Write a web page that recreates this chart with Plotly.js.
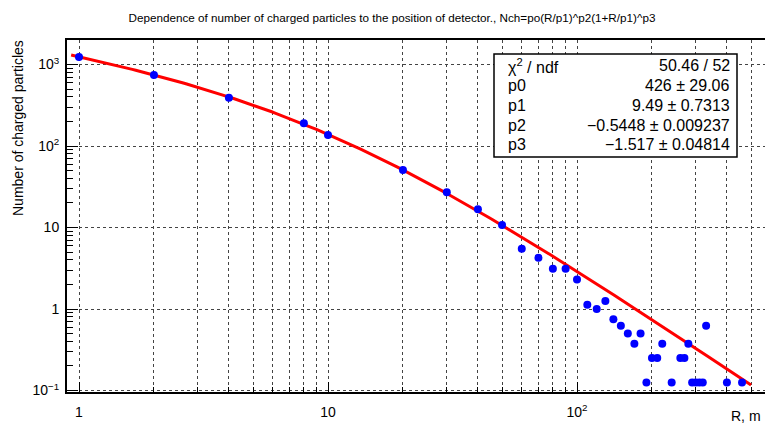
<!DOCTYPE html>
<html>
<head>
<meta charset="utf-8">
<script src="https://cdn.plot.ly/plotly-3.0.1.min.js"></script>
<style>
html, body { margin:0; padding:0; overflow:hidden; background:#fff; }
#chart { width:790px; height:423px; }
</style>
</head>
<body>
<div id="chart"></div>
<script>
// ---- data ----
var radius = [1,2,4,8,10,20,30,40,50,60,70,80,90,100,110,120,130,140,150,160,170,180,190,200,210,220,240,260,270,280,290,300,310,320,330,400,460];
var counts = [1240,744,392,190,136,50.8,27,16.7,10.75,5.5,4.25,3.125,3.125,2.3,1.125,1,1.25,0.75,0.625,0.5,0.375,0.5,0.125,0.25,0.25,0.375,0.125,0.25,0.25,0.375,0.125,0.125,0.125,0.125,0.625,0.125,0.125];

// fit parameters as printed in the stats box
var p0 = 426, p1 = 9.49, p2 = -0.5448, p3 = -1.517;
var fitRange = [0.93, 500];

var statNames  = ['\u03c7<sup>2</sup> / ndf', 'p0', 'p1', 'p2', 'p3'];
var statValues = ['50.46 / 52', '426 \u00b1 29.06', '9.49 \u00b1 0.7313', '\u22120.5448 \u00b1 0.009237', '\u22121.517 \u00b1 0.04814'];

var xTickVals = [1, 10, 100];
var xTickText = ['1', '10', '10<sup>2</sup>'];
var xMinorVals = [2,3,4,5,6,7,8,9,20,30,40,50,60,70,80,90,200,300,400,500,600];
var yTickVals = [0.1, 1, 10, 100, 1000];
var yTickText = ['10<sup>\u22121</sup>', '1', '10', '10<sup>2</sup>', '10<sup>3</sup>'];
var yMinorVals = [0.2,0.3,0.4,0.5,0.6,0.7,0.8,0.9,2,3,4,5,6,7,8,9,20,30,40,50,60,70,80,90,200,300,400,500,600,700,800,900,2000];

// fit curve from the printed fit function Nch = p0 (R/p1)^p2 (1+R/p1)^p3
var fitX = [], fitY = [];
var nFit = 200;
var lo = Math.log10(fitRange[0]), hi = Math.log10(fitRange[1]);
for (var i = 0; i <= nFit; i++) {
  var r = Math.pow(10, lo + (hi - lo) * i / nFit);
  fitX.push(r);
  fitY.push(p0 * Math.pow(r / p1, p2) * Math.pow(1 + r / p1, p3));
}

var FONT = 'Liberation Sans, Arial, Helvetica, sans-serif';

var traces = [
  { x: fitX, y: fitY, type: 'scatter', mode: 'lines',
    line: { color: '#ff0000', width: 3 }, hoverinfo: 'skip', showlegend: false },
  { x: radius, y: counts, type: 'scatter', mode: 'markers',
    marker: { color: '#0000ff', size: 8 }, showlegend: false }
];

// plot frame in pixels: left 67, right 780, top 40, bottom 392
var L = 67, R = 780, T = 40, B = 392;
function px(xp) { return (xp - L) / (R - L); }
function py(yp) { return (B - yp) / (B - T); }

var annotations = [];
var rowY = [65.7, 85.7, 105, 125, 144.3];
for (var k = 0; k < statNames.length; k++) {
  annotations.push({ xref:'paper', yref:'paper', x: px(506), y: py(rowY[k]), xanchor:'left', yanchor:'middle',
    text: statNames[k], showarrow:false, font:{ family: FONT, size:16, color:'#000' } });
  annotations.push({ xref:'paper', yref:'paper', x: px(732), y: py(rowY[k]), xanchor:'right', yanchor:'middle',
    text: statValues[k], showarrow:false, font:{ family: FONT, size:16, color:'#000' } });
}
annotations.push({ xref:'paper', yref:'paper', x: px(18), y: py(38), xanchor:'center', yanchor:'top',
  textangle:-90, text:'Number of charged particles', showarrow:false, font:{ family: FONT, size:14, color:'#000' } });
annotations.push({ xref:'paper', yref:'paper', x: px(763), y: py(416), xanchor:'right', yanchor:'middle',
  text:'R, m', showarrow:false, font:{ family: FONT, size:14, color:'#000' } });

var layout = {
  width: 790, height: 423,
  margin: { l: L, r: 790 - R, t: T, b: 423 - B, pad: 0 },
  paper_bgcolor: '#fff', plot_bgcolor: '#fff',
  showlegend: false,
  title: { text: 'Dependence of number of charged particles to the position of detector., Nch=po(R/p1)^p2(1+R/p1)^p3',
    font: { family: FONT, size: 11.7, color: '#000' }, x: 392/790, xref: 'container', xanchor: 'center',
    y: 1 - 18/423, yref: 'container', yanchor: 'middle' },
  xaxis: {
    type: 'log', range: [(L - 79) / 249, (R - 79) / 249],
    tickmode: 'array', tickvals: xTickVals, ticktext: xTickText,
    ticks: 'inside', ticklen: 10, tickwidth: 1, tickcolor: '#000',
    showgrid: true, gridcolor: '#444', griddash: 'dot', gridwidth: 1,
    minor: { tickmode: 'array', tickvals: xMinorVals, ticks: 'inside', ticklen: 5, tickcolor: '#000',
      showgrid: true, gridcolor: '#444', griddash: 'dot', gridwidth: 1 },
    showline: true, linecolor: '#000', linewidth: 2, mirror: true,
    tickfont: { family: FONT, size: 14, color: '#000' }, ticklabelstandoff: 6,
    zeroline: false
  },
  yaxis: {
    type: 'log', range: [(309 - B) / 81.5, (309 - T) / 81.5],
    tickmode: 'array', tickvals: yTickVals, ticktext: yTickText,
    ticks: 'inside', ticklen: 11, tickwidth: 1, tickcolor: '#000',
    showgrid: true, gridcolor: '#444', griddash: 'dot', gridwidth: 1,
    minor: { tickmode: 'array', tickvals: yMinorVals, ticks: 'inside', ticklen: 6, tickcolor: '#000', showgrid: false },
    showline: true, linecolor: '#000', linewidth: 2, mirror: true,
    tickfont: { family: FONT, size: 14, color: '#000' }, ticklabelstandoff: 3,
    zeroline: false
  },
  shapes: [
    { type: 'rect', xref: 'paper', yref: 'paper', x0: px(494), x1: px(737), y0: py(157), y1: py(54),
      fillcolor: '#fff', line: { color: '#000', width: 1.5 }, layer: 'above' }
  ],
  annotations: annotations
};

Plotly.newPlot('chart', traces, layout, { displayModeBar: false, staticPlot: true });
</script>
</body>
</html>
